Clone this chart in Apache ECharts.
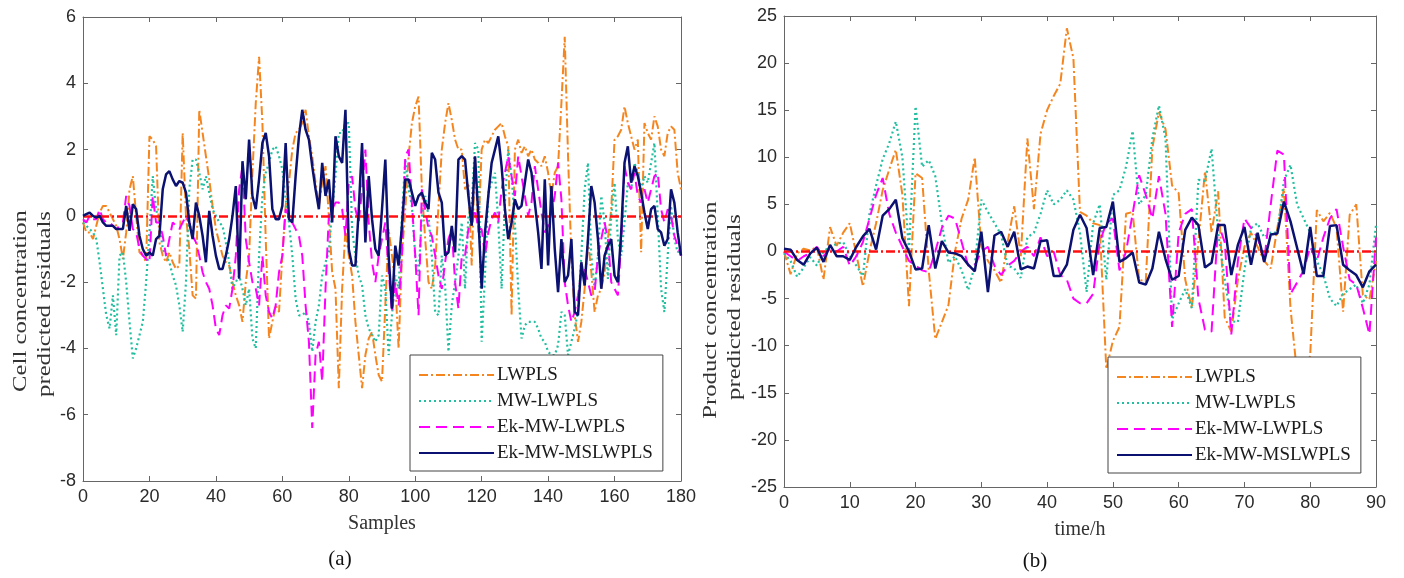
<!DOCTYPE html>
<html>
<head>
<meta charset="utf-8">
<script src="https://cdn.jsdelivr.net/npm/echarts@6/dist/echarts.min.js"></script>
<style>html,body{margin:0;padding:0;background:#fff}#c{width:1404px;height:578px}</style>
</head>
<body>
<div id="c"></div>
<script>
// ---- Panel (a): Cell concentration, samples 0..180 ----
const seriesNames = ['LWPLS', 'MW-LWPLS', 'Ek-MW-LWPLS', 'Ek-MW-MSLWPLS'];
const xTicksA = [0, 20, 40, 60, 80, 100, 120, 140, 160, 180];
const yTicksA = [-8, -6, -4, -2, 0, 2, 4, 6];
const xTicksB = [0, 10, 20, 30, 40, 50, 60, 70, 80, 90];
const yTicksB = [-25, -20, -15, -10, -5, 0, 5, 10, 15, 20, 25];

const lwplsA = [-0.2,-0.5,-0.5,-0.7,-0.3,0.1,0.3,0.3,0.1,-0.1,-0.3,-0.7,-1.3,-0.5,0.8,1.2,0.0,-1.1,-1.2,-1.4,
2.4,2.3,2.1,-0.8,-1.2,-1.4,-1.1,-1.4,-1.6,-1.5,2.5,0.0,-1.0,-2.4,-2.5,3.2,2.5,1.8,1.1,0.3,
-0.4,-0.8,-1.2,-1.4,-1.5,-2.0,-2.4,-2.7,-3.2,-2.0,-1.2,1.3,3.4,4.8,2.8,-0.7,-3.7,-3.2,-2.7,-2.9,
-1.2,0.3,1.0,2.0,2.5,2.6,2.8,3.2,2.4,1.8,1.0,0.3,1.0,1.5,0.0,-1.7,-2.2,-5.2,-2.2,-0.4,
-1.2,-1.8,-3.2,-4.2,-5.2,-4.2,-3.7,-3.5,-4.2,-4.8,-5.0,-2.7,-0.4,-1.2,-2.0,-4.0,-1.2,0.2,1.8,2.8,
3.3,3.6,0.8,-0.7,-2.0,-2.2,-1.5,0.3,2.0,2.8,3.4,2.9,2.3,2.0,2.0,0.8,1.0,-1.5,1.8,-0.5,
2.0,2.3,2.2,2.4,2.6,2.7,2.8,2.4,2.1,-3.0,2.0,2.3,1.9,2.1,1.8,2.0,1.7,1.6,1.5,1.8,
1.3,0.6,1.3,1.5,3.4,5.4,1.8,-1.2,-3.0,-3.8,-3.2,-2.2,-0.7,-1.7,-2.9,-2.4,-2.2,-1.7,-0.7,0.2,
2.3,2.4,2.6,3.3,2.8,2.4,2.0,2.3,-1.1,2.8,2.5,2.3,3.0,2.7,2.0,1.8,2.5,2.7,2.6,1.3,0.8];

const mwA = [-0.2,-0.3,-0.4,-0.5,-0.7,-1.4,-2.2,-3.0,-3.4,-2.4,-3.6,-1.2,-1.1,-2.0,-3.2,-4.3,-4.0,-3.6,-3.2,-2.0,
-0.5,1.2,0.2,-0.2,-1.0,-1.2,-1.4,-1.8,-2.1,-2.7,-3.5,-2.0,0.8,1.7,1.7,1.3,0.8,1.2,0.7,0.2,
0.0,-0.2,-0.3,-0.8,-1.4,-2.2,-2.0,-1.8,-2.2,-2.7,-2.2,-3.7,-4.0,-1.2,0.6,1.3,1.6,2.0,2.1,1.8,
1.4,0.5,-0.2,-1.2,-2.5,-3.0,-3.0,-2.9,-3.2,-4.1,-3.2,-2.7,-1.8,-1.4,-1.1,0.2,1.2,2.5,2.5,2.8,
2.8,-0.4,-1.2,-1.8,-2.1,-3.0,-3.4,-3.6,-3.8,-3.6,-1.8,-2.2,-4.2,-3.0,-1.8,-2.2,0.0,1.7,0.8,0.3,
-1.2,-1.8,0.0,0.6,0.0,-1.2,-2.9,-3.0,-1.2,-2.1,-4.1,-2.7,-2.0,-1.2,-0.2,-2.2,0.0,0.3,2.2,2.0,
-3.8,-1.8,0.7,1.0,1.3,-0.2,-2.2,0.4,2.0,1.2,-0.2,-2.2,-3.7,-3.3,-3.2,-3.2,-3.2,-3.4,-3.7,-3.8,
-4.1,-4.2,-4.2,-3.9,-2.9,-3.0,-4.2,-3.8,-3.4,-2.9,-1.2,0.8,1.6,-1.2,-2.2,-1.2,0.6,-0.2,-1.9,0.0,
1.0,-0.7,-1.2,-0.2,1.0,0.8,1.6,1.3,0.8,1.2,1.0,1.6,2.2,0.0,-2.2,-2.9,-1.2,0.3,-0.7,-1.1,-1.0];

const ekA = [-0.1,-0.2,0.0,-0.1,-0.1,0.2,-0.1,-0.2,-0.2,-0.3,-0.4,-0.3,-0.2,0.6,0.3,-0.4,-0.5,-1.0,-1.2,-1.3,
-1.4,0.6,-0.2,-0.2,-0.6,-1.2,-0.7,-0.2,-0.3,-0.4,-0.2,0.0,-0.2,-0.6,-0.8,-1.2,-1.7,-2.0,-2.2,-2.7,
-3.4,-3.6,-3.0,-2.7,-2.8,-2.2,-1.2,0.8,1.5,-0.7,-1.4,-2.0,-2.2,-2.7,-1.2,-2.4,-2.9,-3.1,-2.7,-1.7,
-1.2,0.2,0.0,-0.2,-0.4,-0.6,-1.2,-2.7,-3.8,-6.4,-4.2,-3.8,-5.0,-2.2,0.0,0.2,0.4,0.4,0.2,-0.6,
1.0,1.2,0.2,-0.2,0.8,2.0,-0.2,-1.4,-2.0,-1.2,-0.7,-0.2,-1.7,-2.9,-2.0,-2.7,-1.2,1.8,2.0,0.4,
-1.2,-3.0,0.8,0.2,-0.4,-0.6,-1.2,-1.8,-2.2,-1.4,-0.7,-0.4,-2.0,-2.8,-1.2,-1.2,-0.4,-0.2,0.2,-0.4,
-0.4,-1.2,-0.5,-0.1,0.1,-0.2,0.8,1.3,1.8,1.2,0.6,1.8,1.2,0.6,0.0,0.4,1.5,0.8,0.1,-0.5,
-0.3,0.1,0.6,1.6,0.5,-2.0,-2.7,-3.2,-2.9,-2.4,-1.7,-1.6,-2.0,-2.4,-2.3,-1.2,-0.7,-0.2,-0.7,-2.0,
-2.2,-2.4,-0.8,1.5,1.0,0.8,1.3,0.6,0.4,0.8,0.4,0.8,1.2,1.3,0.2,-0.2,0.2,0.0,-0.6,-0.9,-1.2];

const mslA = [0.0,0.05,0.1,0.0,-0.05,0.0,-0.2,-0.3,-0.3,-0.3,-0.4,-0.4,-0.4,0.3,-0.45,0.35,0.2,-0.6,-1.0,-1.2,
-1.1,-1.2,-0.7,-0.6,0.8,1.25,1.35,1.1,0.9,1.05,1.0,0.7,-0.2,-0.7,0.4,0.0,-0.6,-1.4,0.15,-0.6,
-1.2,-1.6,-1.6,-1.2,-0.7,0.0,0.9,-1.9,1.65,0.5,2.3,0.6,0.2,1.1,2.2,2.5,1.8,0.2,-0.1,-0.1,
0.3,2.2,-0.1,-0.2,1.2,2.4,3.2,2.6,2.3,1.5,0.8,0.2,1.6,0.6,1.1,-0.2,2.4,1.8,1.6,3.2,
-1.0,-1.5,-1.5,0.2,2.2,-0.8,1.2,-0.1,-1.0,-1.2,0.2,1.7,-1.2,-2.8,-0.9,-1.5,-0.3,1.1,1.1,0.7,
0.3,0.6,0.7,0.4,0.2,1.9,1.7,0.7,0.4,-1.2,-1.1,-0.3,-1.1,1.7,1.8,1.7,0.6,-0.3,1.8,0.0,
-2.2,-0.5,0.6,1.6,2.0,2.4,1.5,0.2,-0.7,-0.2,0.5,0.2,0.3,1.0,1.7,1.3,0.4,-0.5,-1.6,1.1,
-1.5,0.9,-1.0,-2.3,-0.7,-2.0,-1.8,-0.7,-2.9,-3.0,-1.4,-2.1,-0.7,0.9,0.4,-0.7,-2.2,-1.2,-0.9,-0.7,
-1.8,-2.0,-0.5,1.6,2.1,1.0,1.5,1.2,0.7,0.1,-0.4,0.2,0.3,-0.4,-0.5,-0.9,-0.7,0.8,0.4,-0.5,-1.2];

// ---- Panel (b): Product concentration, time 0..90 h ----
const lwplsB = [0,-2.4,-0.2,0.3,0.1,0.5,-3.0,2.6,0.6,2.0,3.0,-0.3,-3.7,0.0,3.0,6.5,8.7,10.8,6.0,-5.8,
8.3,7.8,-2.0,-9.3,-7.5,-5.7,0.0,3.5,5.5,10.0,0.5,-1.0,-2.0,-3.3,1.0,4.8,-0.5,12.0,4.5,12.5,
15.0,16.5,17.8,23.7,20.5,4.2,3.8,3.0,2.8,-12.5,-9.5,-8.0,4.0,4.2,-3.0,-3.2,11.0,14.8,13.0,7.0,
6.2,-3.0,-6.0,1.0,8.5,2.0,6.4,-7.0,-8.5,-3.0,0.5,2.0,0.5,-1.0,-1.8,2.5,6.7,-6.0,-13.0,-14.0,
-11.0,4.4,3.2,4.1,2.5,-6.4,3.9,5.0,-4.6,-5.1,-1.0];

const mwB = [-0.2,-1.0,-2.7,-1.7,-0.6,-1.5,0.0,0.5,0.8,1.0,-0.5,-1.5,-2.6,4.0,7.0,9.8,11.5,13.8,10.0,0.0,
15.4,9.0,9.7,8.0,3.0,-1.2,-0.5,-2.0,-4.1,-1.5,5.5,4.2,3.0,1.8,-1.5,-1.8,-2.8,1.5,2.0,4.0,
6.5,5.0,5.5,6.5,5.5,2.0,-4.3,3.0,5.0,-3.0,6.0,6.5,9.0,12.8,5.0,6.0,12.0,15.5,12.0,-7.2,
-5.5,-4.0,-6.0,7.6,7.5,10.9,2.0,-3.0,-7.4,-7.5,-2.0,2.5,3.0,1.5,2.0,2.0,7.5,9.2,5.0,3.5,
2.0,-1.0,-2.5,-5.0,-5.8,-4.5,-4.0,-3.5,-5.5,-3.5,2.8];

const ekB = [0.0,-0.5,-1.0,-0.5,-0.2,0.5,-0.5,0.3,0.0,0.5,-1.5,-0.5,1.0,3.5,6.0,7.8,4.0,2.0,0.5,-1.0,
-1.5,-2.0,-2.2,0.0,2.5,3.8,3.5,1.0,-1.5,-1.5,0.0,0.5,-1.5,-2.5,-1.5,-1.0,0.0,0.5,-0.5,1.5,
-0.5,0.0,-2.5,-3.0,-5.0,-5.5,-5.5,-4.5,1.0,3.0,3.5,-2.0,0.0,4.0,8.1,6.0,3.5,8.0,4.0,-8.0,
2.0,4.0,4.5,-5.0,-8.3,-8.5,3.0,1.0,-8.8,-1.0,3.5,2.5,1.5,-1.0,5.0,10.7,10.3,-4.5,-3.3,-2.0,
0.5,-1.0,1.5,3.5,4.5,0.5,-3.0,-3.5,-6.0,-8.8,1.5];

const mslB = [0.3,0.2,-0.9,-1.4,-0.2,0.4,-1.1,0.7,-0.5,-0.5,-0.9,0.5,1.6,2.4,0.2,3.8,4.5,5.5,1.4,0.0,
-1.9,-1.8,2.8,-1.8,1.1,-0.1,-0.2,-0.5,-1.4,-2.1,2.1,-4.3,1.7,2.1,0.5,2.1,-1.9,-1.6,-1.8,1.1,
1.2,-2.6,-2.6,-1.4,2.3,3.9,2.5,-2.5,2.5,2.6,5.3,-1.1,-0.7,-0.1,-3.3,-3.5,-1.8,2.1,-0.8,-3.0,
-2.6,2.3,3.6,2.8,-1.7,-1.2,2.8,2.8,-2.5,0.7,2.6,-1.4,2.0,-1.1,1.8,1.9,5.3,3.2,0.4,-2.4,
2.6,-2.6,-2.6,2.7,2.8,-1.4,-2.0,-2.5,-3.8,-2.1,-1.4];

const colors = ['#F5861F', '#21BFA0', '#FF00FF', '#0B1170'];
const dashes = [[9, 3, 2, 3], [2, 3], [11, 6], 'solid'];
const widths = [2, 2.2, 2, 2.5];

function pairs(arr) { return arr.map((v, i) => [i, v]); }

function makeSeries(dataArrs, gi) {
  const s = dataArrs.map((arr, k) => ({
    name: seriesNames[k], type: 'line', xAxisIndex: gi * 2, yAxisIndex: gi * 2,
    data: pairs(arr), symbol: 'none', smooth: false, animation: false,
    lineStyle: { color: colors[k], width: widths[k], type: dashes[k] },
    itemStyle: { color: colors[k] }, z: 2 + k
  }));
  s.push({
    name: 'zero', type: 'line', xAxisIndex: gi * 2, yAxisIndex: gi * 2, data: [],
    symbol: 'none', animation: false, z: 10,
    markLine: { silent: true, symbol: 'none', animation: false, label: { show: false },
      lineStyle: { color: '#FF1010', width: 2.5, type: [9, 3, 2, 3] },
      data: [{ yAxis: 0 }] }
  });
  return s;
}

const axisColor = '#666';
const labelFont = { fontFamily: 'Liberation Sans, Arial, sans-serif', fontSize: 18, color: '#2a2a2a' };
const serif = 'Liberation Serif, Times New Roman, serif';
function xAx(gi, max, interval, name, pos) {
  const main = pos === 'bottom';
  return {
    type: 'value', gridIndex: gi, min: 0, max: max, interval: interval, position: pos,
    name: main ? name : '', nameLocation: 'middle', nameGap: 33,
    nameTextStyle: { fontFamily: serif, fontSize: 20, color: '#333' },
    axisLine: { show: true, onZero: false, lineStyle: { color: axisColor, width: 1 } },
    axisTick: { show: true, inside: true, length: 5, lineStyle: { color: axisColor } },
    axisLabel: Object.assign({ show: main, margin: 7 }, labelFont),
    splitLine: { show: false }
  };
}
function yAx(gi, min, max, interval, pos) {
  const main = pos === 'left';
  return {
    type: 'value', gridIndex: gi, min: min, max: max, interval: interval, position: pos,
    axisLine: { show: true, onZero: false, lineStyle: { color: axisColor, width: 1 } },
    axisTick: { show: true, inside: true, length: 5, lineStyle: { color: axisColor } },
    axisLabel: Object.assign({ show: main, margin: 7 }, labelFont),
    splitLine: { show: false }
  };
}

const legendBase = {
  orient: 'vertical', itemWidth: 75, itemHeight: 14, itemGap: 6,
  backgroundColor: '#fff', borderColor: '#444', borderWidth: 1,
  padding: [10, 10, 8, 8], data: seriesNames,
  itemStyle: { opacity: 0, borderWidth: 0 },
  textStyle: { fontFamily: serif, fontSize: 19, color: '#1a1a1a', lineHeight: 20, padding: [0, 0, 0, -2] },
  selectedMode: false, z: 20
};

function yName(text, x, y) {
  return { type: 'text', x: x, y: y, rotation: Math.PI / 2, scaleX: 1.3,
    style: { text: text, fontFamily: serif, fontSize: 19, fill: '#333', align: 'center', verticalAlign: 'middle' } };
}

const chart = echarts.init(document.getElementById('c'), null, { renderer: 'canvas' });
chart.setOption({
  backgroundColor: '#fff',
  animation: false,
  grid: [
    { left: 83, top: 17, width: 598, height: 464 },
    { left: 784, top: 16, width: 592, height: 471 }
  ],
  xAxis: [
    xAx(0, 180, 20, 'Samples', 'bottom'), xAx(0, 180, 20, '', 'top'),
    xAx(1, 90, 10, 'time/h', 'bottom'), xAx(1, 90, 10, '', 'top')
  ],
  yAxis: [
    yAx(0, -8, 6, 2, 'left'), yAx(0, -8, 6, 2, 'right'),
    yAx(1, -25, 25, 5, 'left'), yAx(1, -25, 25, 5, 'right')
  ],
  legend: [
    Object.assign({}, legendBase, { left: 410, top: 355 }),
    Object.assign({}, legendBase, { left: 1108, top: 357 })
  ],
  series: makeSeries([lwplsA, mwA, ekA, mslA], 0).concat(makeSeries([lwplsB, mwB, ekB, mslB], 1)),
  graphic: [
    yName('Cell concentration', 21, 301),
    yName('predicted residuals', 45, 304),
    yName('Product concentration', 711, 310),
    yName('predicted residuals', 735, 307),
    { type: 'text', x: 340, y: 559, style: { text: '(a)', fontFamily: serif, fontSize: 21, fill: '#111', align: 'center', verticalAlign: 'middle' } },
    { type: 'text', x: 1035, y: 561, style: { text: '(b)', fontFamily: serif, fontSize: 21, fill: '#111', align: 'center', verticalAlign: 'middle' } }
  ]
});
</script>
</body>
</html>
